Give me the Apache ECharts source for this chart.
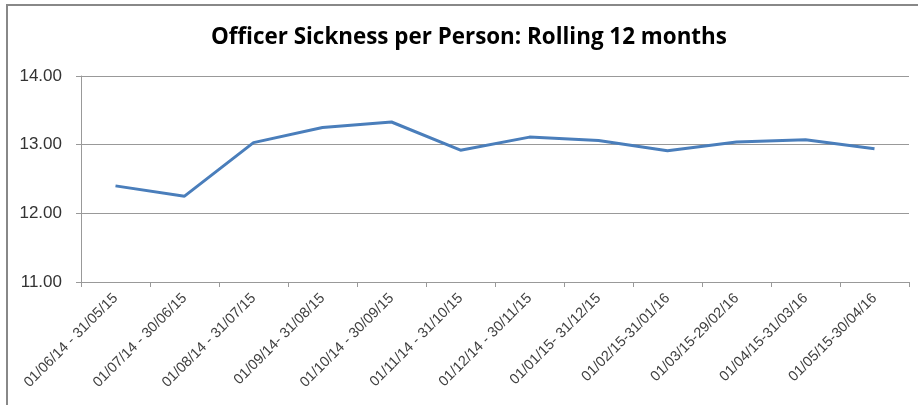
<!DOCTYPE html>
<html><head><meta charset="utf-8">
<script src="https://cdn.jsdelivr.net/npm/echarts@6/dist/echarts.min.js"></script>
<style>html,body{margin:0;padding:0;background:#fff}#c{width:918px;height:405px}</style>
</head><body><div id="c"></div>
<script>
const categories = ["01/06/14 - 31/05/15","01/07/14 - 30/06/15","01/08/14 - 31/07/15","01/09/14- 31/08/15","01/10/14 - 30/09/15","01/11/14 - 31/10/15","01/12/14 - 30/11/15","01/01/15- 31/12/15","01/02/15-31/01/16","01/03/15-29/02/16","01/04/15-31/03/16","01/05/15-30/04/16"];
const values = [12.40, 12.25, 13.03, 13.25, 13.33, 12.92, 13.11, 13.06, 12.91, 13.04, 13.07, 12.94];
const yTicks = [11, 12, 13, 14];
const chart = echarts.init(document.getElementById('c'));
chart.setOption({
  animation: false,
  title: { text: 'Officer Sickness per Person: Rolling 12 months', left: 206, top: 22,
    textStyle: { fontFamily: 'Open Sans', fontWeight: 'bold', fontSize: 22.4, color: '#000' } },
  graphic: [
    { type: 'line', shape: { x1: 6, y1: 5, x2: 918, y2: 5 }, style: { stroke: '#888', lineWidth: 2 } },
    { type: 'line', shape: { x1: 7, y1: 5, x2: 7, y2: 405 }, style: { stroke: '#888', lineWidth: 2 } }
  ],
  grid: { left: 81, right: 9, top: 76, bottom: 123 },
  xAxis: { type: 'category', data: categories, boundaryGap: true,
    axisLine: { lineStyle: { color: '#999' } },
    axisTick: { show: true, length: 5, lineStyle: { color: '#999' } },
    axisLabel: { rotate: 45, interval: 0, fontFamily: 'Liberation Sans', fontSize: 14.5, color: '#404040', margin: 14 } },
  yAxis: { type: 'value', min: yTicks[0], max: yTicks[yTicks.length-1], interval: 1,
    axisLine: { show: true, lineStyle: { color: '#999' } },
    axisTick: { show: true, length: 5, lineStyle: { color: '#999' } },
    splitLine: { lineStyle: { color: '#999' } },
    axisLabel: { formatter: v => v.toFixed(2), fontFamily: 'Liberation Sans', fontSize: 17, color: '#333', margin: 19 } },
  series: [{ type: 'line', data: values, symbol: 'none', lineStyle: { color: '#4a7ebb', width: 3 } }]
});
</script></body></html>
